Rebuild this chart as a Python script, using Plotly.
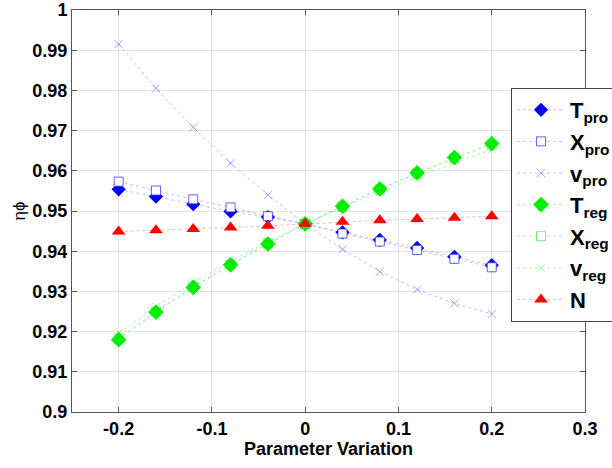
import plotly.graph_objects as go

x = [-0.2, -0.16, -0.12, -0.08, -0.04, 0.0, 0.04, 0.08, 0.12, 0.16, 0.2]

t_pro = [0.9554, 0.9536, 0.9517, 0.9499, 0.9485, 0.9468, 0.9447, 0.9428, 0.9408, 0.9386, 0.9365]
x_pro = [0.9573, 0.9551, 0.9529, 0.9509, 0.9487, 0.9468, 0.9444, 0.9424, 0.9403, 0.9381, 0.9360]
v_pro = [0.9915, 0.9805, 0.9708, 0.9619, 0.9540, 0.9468, 0.9405, 0.9349, 0.9305, 0.9270, 0.9244]
t_reg = [0.9180, 0.9248, 0.9310, 0.9366, 0.9418, 0.9468, 0.9512, 0.9555, 0.9595, 0.9633, 0.9668]
x_reg = [0.9183, 0.9250, 0.9312, 0.9367, 0.9419, 0.9468, 0.9511, 0.9554, 0.9593, 0.9631, 0.9665]
v_reg = [0.9197, 0.9262, 0.9322, 0.9375, 0.9423, 0.9468, 0.9509, 0.9547, 0.9584, 0.9619, 0.9653]
n_val = [0.9449, 0.9452, 0.9455, 0.9459, 0.9463, 0.9468, 0.9473, 0.9477, 0.9480, 0.9483, 0.9487]

BLUE = "#0000ff"
GREEN = "#00ee00"
RED = "#ff0000"
FONT = "Liberation Sans, Arial, sans-serif"

# (name, values, line colour, marker dict, legend rank), listed in drawing order
series = [
    ("T<sub>pro</sub>", t_pro, "rgba(0,0,255,0.25)",
     {"symbol": "diamond", "size": 11, "color": BLUE, "line": {"width": 0}}, 1),
    ("X<sub>pro</sub>", x_pro, "rgba(0,0,255,0.25)",
     {"symbol": "square", "size": 9, "color": "white", "line": {"color": "rgba(60,60,255,0.8)", "width": 1}}, 2),
    ("v<sub>pro</sub>", v_pro, "rgba(0,0,255,0.25)",
     {"symbol": "x-thin", "size": 8, "color": "rgba(0,0,255,0.35)", "line": {"color": "rgba(0,0,255,0.35)", "width": 1}}, 3),
    ("X<sub>reg</sub>", x_reg, "rgba(0,220,0,0.3)",
     {"symbol": "square", "size": 9, "color": "white", "line": {"color": "rgba(0,220,0,0.5)", "width": 1}}, 5),
    ("T<sub>reg</sub>", t_reg, "rgba(0,220,0,0.3)",
     {"symbol": "diamond", "size": 12, "color": GREEN, "line": {"width": 0}}, 4),
    ("v<sub>reg</sub>", v_reg, "rgba(0,220,0,0.3)",
     {"symbol": "x-thin", "size": 8, "color": "rgba(0,220,0,0.35)", "line": {"color": "rgba(0,220,0,0.35)", "width": 1}}, 6),
    ("N", n_val, "rgba(255,0,0,0.3)",
     {"symbol": "triangle-up", "size": 12, "color": RED, "line": {"width": 0}}, 7),
]

fig = go.Figure()
for name, vals, lcol, marker, rank in series:
    fig.add_trace(
        go.Scatter(
            x=x,
            y=vals,
            mode="lines+markers",
            name=name,
            line={"color": lcol, "width": 1, "dash": "dot"},
            marker=marker,
            legendrank=rank,
        )
    )

axis_style = dict(
    showline=True,
    linecolor="#555555",
    linewidth=1,
    mirror="ticks",
    ticks="inside",
    ticklen=5,
    tickcolor="#555555",
    showgrid=True,
    gridcolor="#e3e3e3",
    gridwidth=1,
    zeroline=False,
    automargin=False,
    tickfont={"family": FONT, "size": 18, "color": "black", "weight": "bold"},
)

fig.update_xaxes(
    range=[-0.25, 0.3],
    tickvals=[-0.2, -0.1, 0, 0.1, 0.2, 0.3],
    ticktext=["-0.2", "-0.1", "0", "0.1", "0.2", "0.3"],
    title={"text": "Parameter Variation", "standoff": 2,
           "font": {"family": FONT, "size": 18, "color": "black", "weight": "bold"}},
    **axis_style,
)
fig.update_yaxes(
    range=[0.9, 1.0],
    tickvals=[0.9, 0.91, 0.92, 0.93, 0.94, 0.95, 0.96, 0.97, 0.98, 0.99, 1.0],
    ticktext=["0.9", "0.91", "0.92", "0.93", "0.94", "0.95", "0.96", "0.97", "0.98", "0.99", "1"],
    title={"text": "ηϕ", "standoff": 2,
           "font": {"family": FONT, "size": 17, "color": "black"}},
    **axis_style,
)

fig.update_layout(
    width=612,
    height=468,
    margin={"l": 72, "r": 27, "t": 10, "b": 56, "autoexpand": False},
    paper_bgcolor="white",
    plot_bgcolor="white",
    showlegend=True,
    legend={
        "xref": "container",
        "yref": "container",
        "x": 0.835,
        "y": 0.812,
        "xanchor": "left",
        "yanchor": "top",
        "bgcolor": "white",
        "bordercolor": "#444444",
        "borderwidth": 1,
        "itemwidth": 48,
        "tracegroupgap": 0,
        "font": {"family": FONT, "size": 22, "color": "black", "weight": "bold"},
    },
)

fig.write_html(
    "out.html",
    config={"displayModeBar": False},
    post_script="document.body.style.margin = '0';",
)
